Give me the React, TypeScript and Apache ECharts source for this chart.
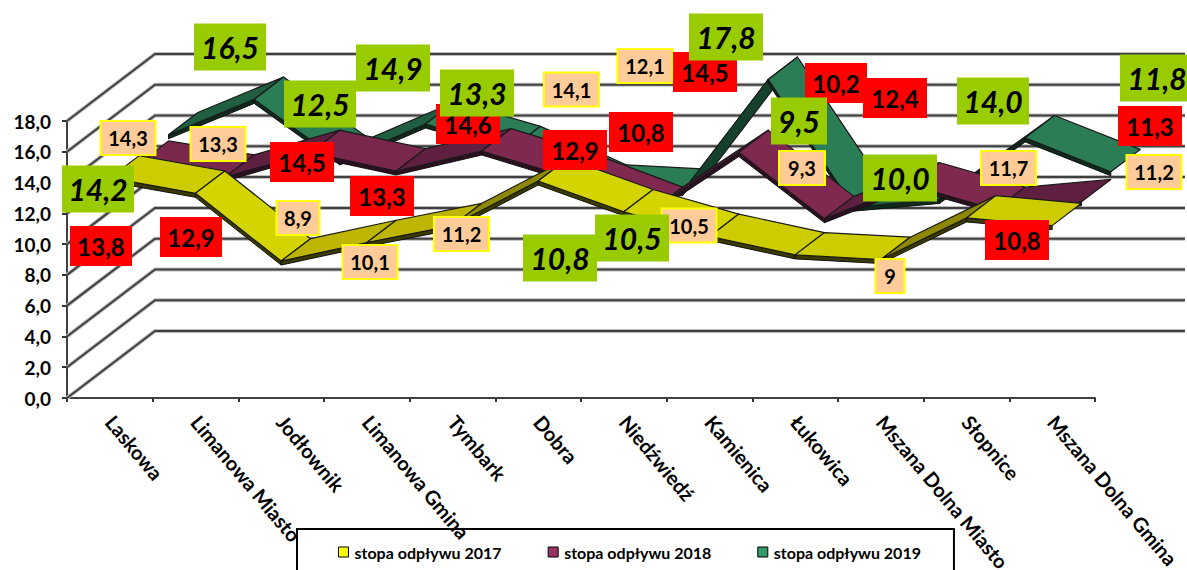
import React, { useEffect, useRef } from "react";
import * as echarts from "echarts";

const categories = ["Laskowa", "Limanowa Miasto", "Jodłownik", "Limanowa Gmina", "Tymbark", "Dobra", "Niedźwiedź", "Kamienica", "Łukowica", "Mszana Dolna Miasto", "Słopnice", "Mszana Dolna Gmina"];
const values2017 = [14.3, 13.3, 8.9, 10.1, 11.2, 14.1, 12.1, 10.5, 9.3, 9, 11.7, 11.2];
const values2018 = [13.8, 12.9, 14.5, 13.3, 14.6, 12.9, 10.8, 14.5, 10.2, 12.4, 10.8, 11.3];
const values2019 = [14.2, 16.5, 12.5, 14.9, 13.3, 10.8, 10.5, 17.8, 9.5, 10.0, 14.0, 11.8];
const yTicks = [0, 2, 4, 6, 8, 10, 12, 14, 16, 18];

// Layout only: label box centres, as placed by hand in the reference.
const boxes2017 = [[128, 138, 55], [218, 144, 55], [298, 218, 43], [370, 262, 55], [461.5, 234, 55], [571.5, 89.5, 55], [645, 66, 55], [689, 225.5, 55], [802, 168, 46], [890, 276, 29], [1008.5, 168, 55], [1154, 172, 55]];
const boxes2018 = [[101, 246, 62], [191, 237, 62], [302, 162, 64], [382, 196, 64], [468, 124, 64], [575, 150, 64], [641, 132, 64], [705, 72, 64], [836, 83, 62], [895, 98, 64], [1017, 240, 64], [1150, 126, 64]];
const boxes2019 = [[98, 189, 72], [230, 47, 72], [320, 104, 72], [393, 68, 74], [477, 93, 74], [560, 258, 74], [632, 238, 74], [726, 37, 74], [799, 121, 56], [900, 178, 74], [993, 101, 72], [1157, 78, 74]];

const DEPTH_X = 88;
const DEPTH_Y = -67;
const FONT = "Lato";

function ribbon(values: number[], slot: number, shades: string[], edge: string) {
  return (params: any, api: any) => {
    const i = params.dataIndex;
    if (i >= values.length - 1) return null;
    const a = api.coord([i, values[i]]);
    const b = api.coord([i + 1, values[i + 1]]);
    const f0 = slot / 3;
    const f1 = (slot + 1) / 3;
    const off = (p: number[], f: number, t = 0) => [p[0] + DEPTH_X * f, p[1] + DEPTH_Y * f + t];
    const slope = (a[1] - b[1]) / (b[0] - a[0]);
    const fill = slope > 0.45 ? shades[3] : slope > 0.05 ? shades[2] : slope > -0.25 ? shades[1] : shades[0];
    const T = 4;
    return {
      type: "group",
      children: [
        {
          type: "polygon",
          silent: true,
          shape: { points: [off(a, f0), off(b, f0), off(b, f0, T), off(a, f0, T)] },
          style: { fill: edge, stroke: "#111", lineWidth: 1 },
        },
        {
          type: "polygon",
          silent: true,
          shape: { points: [off(a, f0), off(a, f1), off(b, f1), off(b, f0)] },
          style: { fill, stroke: "#1a1a1a", lineWidth: 1.2, lineJoin: "round" },
        },
      ],
    };
  };
}

function labels(values: number[], boxes: number[][], o: { h: number; fill: string; stroke?: string; font: string; fmt: (v: number) => string }) {
  return (params: any) => {
    const i = params.dataIndex;
    const [cx, cy, w] = boxes[i];
    return {
      type: "group",
      children: [
        {
          type: "rect",
          silent: true,
          shape: { x: cx - w / 2, y: cy - o.h / 2, width: w, height: o.h },
          style: { fill: o.fill, stroke: o.stroke || o.fill, lineWidth: o.stroke ? 2 : 0 },
        },
        {
          type: "text",
          silent: true,
          x: cx,
          y: cy,
          style: { text: o.fmt(values[i]), font: o.font, fill: "#000", align: "center", verticalAlign: "middle" },
        },
      ],
    };
  };
}

const comma = (v: number) => String(v).replace(".", ",");
const comma1 = (v: number) => v.toFixed(1).replace(".", ",");

export default function App() {
  const ref = useRef<HTMLDivElement>(null);
  useEffect(() => {
    const chart = echarts.init(ref.current!, undefined, { renderer: "svg" });
    const pairs = (vals: number[]) => vals.map((v, i) => [i, v]);
    const wallItem = (params: any, api: any) => {
      const band = api.size([1, 0])[0];
      const p = api.coord([0, api.value(1)]);
      const q = api.coord([categories.length - 1, api.value(1)]);
      const x0 = p[0] - band / 2;
      const x1 = q[0] + band / 2;
      const pts = [[x0, p[1]], [x0 + DEPTH_X, p[1] + DEPTH_Y], [x1 + DEPTH_X + 2, p[1] + DEPTH_Y]];
      return {
        type: "group",
        children: [
          { type: "polyline", silent: true, shape: { points: pts }, style: { fill: "none", stroke: "#bdbdbd", lineWidth: 4 } },
          { type: "polyline", silent: true, shape: { points: pts }, style: { fill: "none", stroke: "#404040", lineWidth: 2 } },
        ],
      };
    };
    const custom = (name: string | undefined, data: any, renderItem: any, z: number, color?: string) => ({
      type: "custom",
      name,
      data,
      renderItem,
      z,
      silent: true,
      encode: { x: 0, y: 1 },
      clip: false,
      itemStyle: color ? { color } : undefined,
    });
    chart.setOption({
      animation: false,
      backgroundColor: "#fff",
      grid: { left: 67, right: 92, top: 121, bottom: 172, containLabel: false, outerBoundsMode: "none" },
      xAxis: {
        type: "category",
        data: categories,
        boundaryGap: true,
        axisLine: { lineStyle: { color: "#404040", width: 2 } },
        axisTick: { show: true, length: 4, lineStyle: { color: "#333", width: 2 } },
        axisLabel: { rotate: -50, interval: 0, margin: 20, color: "#000", fontFamily: FONT, fontWeight: "bold", fontSize: 20 },
        splitLine: { show: false },
      },
      yAxis: {
        type: "value",
        min: 0,
        max: 18,
        interval: 2,
        axisLine: { show: true, lineStyle: { color: "#404040", width: 2 } },
        axisTick: { show: true, length: 5, lineStyle: { color: "#333", width: 2 } },
        axisLabel: { margin: 16, color: "#000", fontFamily: FONT, fontWeight: "bold", fontSize: 19, formatter: (v: number) => comma1(v) },
        splitLine: { show: false },
      },
      legend: {
        left: 297,
        top: 529,
        orient: "horizontal",
        padding: [15, 33, 30, 41],
        itemGap: 46,
        itemWidth: 10,
        itemHeight: 10,
        borderColor: "#000",
        borderWidth: 2,
        icon: "rect",
        textStyle: { color: "#000", fontFamily: FONT, fontWeight: "bold", fontSize: 16, padding: [7, 0, 0, 1] },
        data: [
          { name: "stopa odpływu 2017", itemStyle: { color: "#FFFF00", borderColor: "#000", borderWidth: 1 } },
          { name: "stopa odpływu 2018", itemStyle: { color: "#993366", borderColor: "#000", borderWidth: 1 } },
          { name: "stopa odpływu 2019", itemStyle: { color: "#339966", borderColor: "#000", borderWidth: 1 } },
        ],
      },
      series: [
        custom(undefined, yTicks.map((v) => [0, v]), wallItem, 1),
        custom("stopa odpływu 2019", pairs(values2019), ribbon(values2019, 2, ["#2B7D55", "#2B7D55", "#1F5E40", "#15402C"], "#0d2a1c"), 2, "#339966"),
        custom("stopa odpływu 2018", pairs(values2018), ribbon(values2018, 1, ["#7F2850", "#7A274E", "#5F1F40", "#4A1A35"], "#2c0f20"), 3, "#993366"),
        custom("stopa odpływu 2017", pairs(values2017), ribbon(values2017, 0, ["#D4D400", "#CCCC00", "#BDB500", "#8C8800"], "#3a3a00"), 4, "#FFFF00"),
        custom(undefined, pairs(values2017), labels(values2017, boxes2017, { h: 34, fill: "#FFCC99", stroke: "#FFFF00", font: `bold 20px ${FONT}`, fmt: comma }), 10),
        custom(undefined, pairs(values2018), labels(values2018, boxes2018, { h: 40, fill: "#FF0000", font: `bold 24px ${FONT}`, fmt: comma1 }), 11),
        custom(undefined, pairs(values2019), labels(values2019, boxes2019, { h: 47, fill: "#99CC00", font: `italic bold 30px ${FONT}`, fmt: comma1 }), 12),
      ],
    });
    return () => chart.dispose();
  }, []);
  return <div ref={ref} style={{ position: "absolute", left: 0, top: 0, width: 1187, height: 570, overflow: "hidden" }} />;
}
